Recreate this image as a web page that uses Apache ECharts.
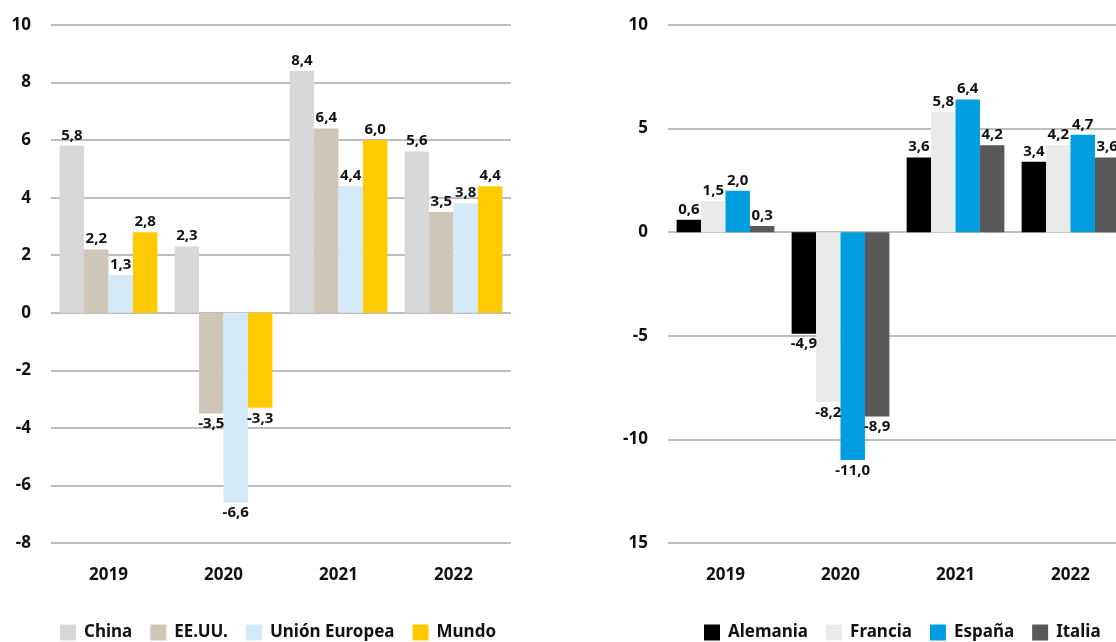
<!DOCTYPE html>
<html>
<head>
<meta charset="utf-8">
<script src="https://cdn.jsdelivr.net/npm/echarts@6/dist/echarts.min.js"></script>
<style>
html,body{margin:0;padding:0;background:#fff;}
#c{width:1116px;height:642px;}
</style>
</head>
<body>
<div id="c"></div>
<script>
const years = ['2019', '2020', '2021', '2022'];

const leftNames = ['China', 'EE.UU.', 'Unión Europea', 'Mundo'];
const china = [5.8, 2.3, 8.4, 5.6];
const eeuu = [2.2, -3.5, 6.4, 3.5];
const ue = [1.3, -6.6, 4.4, 3.8];
const mundo = [2.8, -3.3, 6.0, 4.4];
const leftColors = ['#d7d8da', '#d0c6b8', '#d4eaf8', '#ffcb00'];

const rightNames = ['Alemania', 'Francia', 'España', 'Italia'];
const alemania = [0.6, -4.9, 3.6, 3.4];
const francia = [1.5, -8.2, 5.8, 4.2];
const espana = [2.0, -11.0, 6.4, 4.7];
const italia = [0.3, -8.9, 4.2, 3.6];
const rightColors = ['#000000', '#e9ebea', '#009ee0', '#59595b'];

const leftTicks = { '-8': '-8', '-6': '-6', '-4': '-4', '-2': '-2', '0': '0', '2': '2', '4': '4', '6': '6', '8': '8', '10': '10' };
const rightTicks = { '-15': '15', '-10': '-10', '-5': '-5', '0': '0', '5': '5', '10': '10' };

const FONT = 'Noto Sans';
const fmt = v => v.toFixed(1).replace('.', ',');

function mkData(arr) {
  return arr.map(v => ({
    value: v,
    label: { position: v >= 0 ? 'top' : 'bottom' }
  }));
}

function mkSeries(names, datas, colors, idx) {
  return names.map((n, i) => ({
    name: n,
    type: 'bar',
    xAxisIndex: idx,
    yAxisIndex: idx,
    data: mkData(datas[i]),
    barGap: '0%',
    barCategoryGap: '15%',
    itemStyle: { color: colors[i] },
    label: {
      show: true,
      distance: 3,
      fontFamily: FONT,
      fontWeight: 'bold',
      fontSize: 15,
      color: '#111',
      formatter: p => fmt(p.value)
    }
  }));
}

function xAx(idx) {
  return {
    type: 'category',
    gridIndex: idx,
    data: years,
    position: 'bottom',
    axisLine: { show: false },
    axisTick: { show: false },
    axisLabel: { fontFamily: FONT, fontWeight: 'bold', fontSize: 17, color: '#111', margin: 24 }
  };
}

function yAx(idx, min, max, interval, ticks) {
  return {
    type: 'value',
    gridIndex: idx,
    min: min, max: max, interval: interval,
    axisLine: { show: false },
    axisTick: { show: false },
    splitLine: { lineStyle: { color: '#bdbdbd', width: 2 } },
    axisLabel: {
      fontFamily: FONT, fontWeight: 'bold', fontSize: 17, color: '#111', margin: 20,
      formatter: v => ticks[String(v)] !== undefined ? ticks[String(v)] : String(v)
    }
  };
}

const chart = echarts.init(document.getElementById('c'), null, { renderer: 'canvas' });
chart.setOption({
  backgroundColor: '#ffffff',
  animation: false,
  grid: [
    { left: 51, top: 25, width: 460, height: 518, containLabel: false, outerBoundsMode: 'none' },
    { left: 668, top: 25, width: 460, height: 518, containLabel: false, outerBoundsMode: 'none' }
  ],
  xAxis: [xAx(0), xAx(1)],
  yAxis: [yAx(0, -8, 10, 2, leftTicks), yAx(1, -15, 10, 5, rightTicks)],
  legend: [
    {
      data: leftNames, left: 55, top: 619, itemWidth: 16, itemHeight: 16, itemGap: 18,
      icon: 'rect',
      textStyle: { fontFamily: FONT, fontWeight: 'bold', fontSize: 17, color: '#111', padding: [0, 0, 0, 3] }
    },
    {
      data: rightNames, left: 699, top: 619, itemWidth: 16, itemHeight: 16, itemGap: 18,
      icon: 'rect',
      textStyle: { fontFamily: FONT, fontWeight: 'bold', fontSize: 17, color: '#111', padding: [0, 0, 0, 3] }
    }
  ],
  series: [
    ...mkSeries(leftNames, [china, eeuu, ue, mundo], leftColors, 0),
    ...mkSeries(rightNames, [alemania, francia, espana, italia], rightColors, 1)
  ]
});
</script>
</body>
</html>
